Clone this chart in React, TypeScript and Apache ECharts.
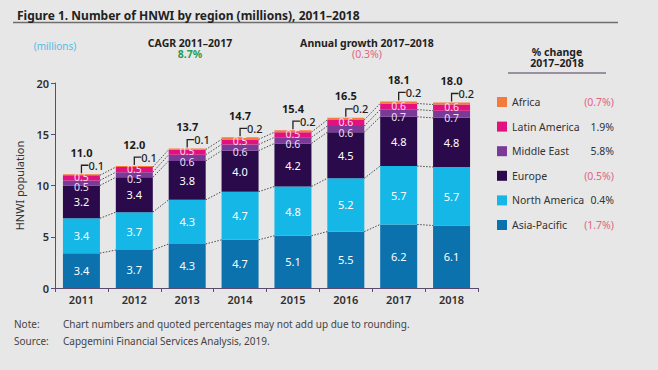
import React, { useEffect, useRef } from "react";
import * as echarts from "echarts";

const years = ["2011", "2012", "2013", "2014", "2015", "2016", "2017", "2018"];
const asiaPacific = [3.4, 3.7, 4.3, 4.7, 5.1, 5.5, 6.2, 6.1];
const northAmerica = [3.4, 3.7, 4.3, 4.7, 4.8, 5.2, 5.7, 5.7];
const europe = [3.2, 3.4, 3.8, 4.0, 4.2, 4.5, 4.8, 4.8];
const middleEast = [0.5, 0.5, 0.6, 0.6, 0.6, 0.6, 0.7, 0.7];
const latinAmerica = [0.5, 0.5, 0.5, 0.5, 0.5, 0.6, 0.6, 0.6];
const africa = [0.1, 0.1, 0.1, 0.2, 0.2, 0.2, 0.2, 0.2];
const totalLabels = ["11.0", "12.0", "13.7", "14.7", "15.4", "16.5", "18.1", "18.0"];
const regionNames = ["Asia-Pacific", "North America", "Europe", "Middle East", "Latin America", "Africa"];
const regionColors = ["#0b72ae", "#14b7e6", "#2a0a4a", "#7a3b98", "#e1127f", "#f47b3c"];
const labelColors = ["#ffffff", "#ffffff", "#ffffff", "#eadff3", "#ffd8ec", "#ffffff"];
const changes2017to2018 = ["(1.7%)", "0.4%", "(0.5%)", "5.8%", "1.9%", "(0.7%)"];
const yTicks = { min: 0, max: 20, interval: 5 };

const FONT = "'Noto Sans', 'Open Sans', sans-serif";
const BAR_WIDTH = 37;
const labelOffsets = [[0, 0], [0, 0], [0, 0], [0, 4], [0, -1], [0, 0]];

export default function App() {
  const ref = useRef<HTMLDivElement>(null);

  useEffect(() => {
    if (!ref.current) return;
    const chart = echarts.init(ref.current, undefined, { renderer: "svg" });

    const seriesValues = [asiaPacific, northAmerica, europe, middleEast, latinAmerica, africa];
    const cumulative: number[][] = [];
    seriesValues.forEach((vals, k) => {
      cumulative.push(vals.map((v, i) => (k === 0 ? 0 : cumulative[k - 1][i]) + v));
    });
    const totals = cumulative[cumulative.length - 1];

    const barSeries = seriesValues.map((vals, k) => ({
      name: regionNames[k],
      type: "bar",
      stack: "total",
      barWidth: BAR_WIDTH,
      itemStyle: { color: regionColors[k] },
      data: vals,
      z: 2,
      label: {
        show: k < 5,
        position: "inside",
        offset: labelOffsets[k],
        color: labelColors[k],
        fontSize: k < 3 ? 11 : 10.5,
        lineHeight: k < 3 ? 13 : 8,
        fontFamily: FONT,
        formatter: (p: any) => Number(p.value).toFixed(1),
      },
    }));

    const connectorData = years.slice(0, -1).map((_, i) => [i]);
    const connectorSeries = {
      type: "custom",
      name: "connectors",
      data: connectorData,
      z: 5,
      silent: true,
      renderItem: (params: any, api: any) => {
        const i = api.value(0);
        const children: any[] = [];
        for (let k = 0; k < 5; k++) {
          const a = api.coord([i, cumulative[k][i]]);
          const b = api.coord([i + 1, cumulative[k][i + 1]]);
          children.push({
            type: "line",
            shape: { x1: a[0] + BAR_WIDTH / 2, y1: a[1], x2: b[0] - BAR_WIDTH / 2, y2: b[1] },
            style: { stroke: "#4a4a4a", lineWidth: 1, lineDash: [1.5, 1.5] },
          });
        }
        return { type: "group", children };
      },
    };

    const annotationSeries = {
      type: "custom",
      name: "annotations",
      data: years.map((_, i) => [i, totals[i]]),
      z: 6,
      silent: true,
      renderItem: (params: any, api: any) => {
        const i = params.dataIndex;
        const p = api.coord([api.value(0), api.value(1)]);
        const cx = p[0];
        const cy = p[1];
        return {
          type: "group",
          children: [
            {
              type: "polyline",
              shape: { points: [[cx, cy - 1], [cx, cy - 9], [cx + 7, cy - 9]] },
              style: { stroke: "#222222", lineWidth: 1.3, fill: "none" },
            },
            {
              type: "text",
              style: {
                text: africa[i].toFixed(1),
                x: cx + 7,
                y: cy - 9,
                align: "left",
                verticalAlign: "middle",
                fill: "#222222",
                font: `500 11px ${FONT}`,
              },
            },
            {
              type: "text",
              style: {
                text: totalLabels[i],
                x: cx,
                y: cy - 22,
                align: "center",
                verticalAlign: "middle",
                fill: "#1a1a1a",
                font: `bold 11px ${FONT}`,
              },
            },
          ],
        };
      },
    };

    const legendOrder = regionNames.slice().reverse();

    const option: any = {
      animation: false,
      backgroundColor: "#e7e7e8",
      textStyle: { fontFamily: FONT },
      title: {
        text: "Figure 1. Number of HNWI by region (millions), 2011–2018",
        left: 12,
        top: 4,
        textStyle: { fontSize: 12, fontWeight: "bold", color: "#222222", fontFamily: FONT },
      },
      grid: { left: 55, right: 180, top: 83, bottom: 82 },
      xAxis: {
        type: "category",
        data: years,
        axisLine: { lineStyle: { color: "#5c4b6e", width: 1 } },
        axisTick: { show: true, length: 4, lineStyle: { color: "#5c4b6e" } },
        axisLabel: { color: "#2e2e2e", fontSize: 11, fontWeight: 600, margin: 6, fontFamily: FONT },
      },
      yAxis: {
        type: "value",
        min: yTicks.min,
        max: yTicks.max,
        interval: yTicks.interval,
        name: "HNWI population",
        nameLocation: "middle",
        nameGap: 30,
        nameTextStyle: { color: "#333333", fontSize: 11, fontFamily: FONT },
        axisLine: { show: true, lineStyle: { color: "#5c4b6e", width: 1 } },
        axisTick: { show: true, length: 4, lineStyle: { color: "#5c4b6e" } },
        splitLine: { show: false },
        axisLabel: { color: "#2e2e2e", fontSize: 11, fontWeight: 600, margin: 6, fontFamily: FONT },
      },
      legend: {
        orient: "vertical",
        left: 497,
        top: 95,
        itemWidth: 10,
        itemHeight: 10,
        itemGap: 10.6,
        padding: 0,
        icon: "rect",
        selectedMode: false,
        data: legendOrder,
        formatter: (name: string) => {
          const idx = regionNames.indexOf(name);
          const ch = changes2017to2018[idx];
          const neg = ch.startsWith("(");
          return `{n|${name}}{${neg ? "neg" : "pos"}|${ch}}`;
        },
        textStyle: {
          fontFamily: FONT,
          fontSize: 10.5,
          color: "#333333",
          lineHeight: 14,
          rich: {
            n: { width: 72, fontSize: 10.5, color: "#333333", fontFamily: FONT, lineHeight: 14 },
            pos: { width: 30, align: "right", fontSize: 10.5, color: "#333333", fontFamily: FONT, lineHeight: 14 },
            neg: { width: 30, align: "right", fontSize: 10.5, color: "#e0667f", fontFamily: FONT, lineHeight: 14 },
          },
        },
      },
      graphic: [
        { type: "line", shape: { x1: 13, y1: 22.5, x2: 618, y2: 22.5 }, style: { stroke: "#6e6e6e", lineWidth: 1.5 } },
        { type: "text", style: { text: "(millions)", x: 55, y: 46, align: "center", verticalAlign: "middle", fill: "#52bce6", font: `10px ${FONT}` } },
        { type: "text", style: { text: "CAGR 2011–2017", x: 190, y: 43, align: "center", verticalAlign: "middle", fill: "#222222", font: `bold 10.5px ${FONT}` } },
        { type: "text", style: { text: "8.7%", x: 190, y: 54, align: "center", verticalAlign: "middle", fill: "#1f9e57", font: `bold 10.5px ${FONT}` } },
        { type: "text", style: { text: "Annual growth 2017–2018", x: 367, y: 43, align: "center", verticalAlign: "middle", fill: "#222222", font: `bold 10.5px ${FONT}` } },
        { type: "text", style: { text: "(0.3%)", x: 367, y: 54, align: "center", verticalAlign: "middle", fill: "#e0667f", font: `10.5px ${FONT}` } },
        { type: "text", style: { text: "% change", x: 557, y: 52, align: "center", verticalAlign: "middle", fill: "#222222", font: `bold 10.5px ${FONT}` } },
        { type: "text", style: { text: "2017–2018", x: 557, y: 63, align: "center", verticalAlign: "middle", fill: "#222222", font: `bold 10.5px ${FONT}` } },
        { type: "line", shape: { x1: 508, y1: 73, x2: 606, y2: 73 }, style: { stroke: "#4b3a5e", lineWidth: 1 } },
        { type: "text", style: { text: "Note:", x: 14, y: 324, align: "left", verticalAlign: "middle", fill: "#444444", font: `10px ${FONT}` } },
        { type: "text", style: { text: "Chart numbers and quoted percentages may not add up due to rounding.", x: 63, y: 324, align: "left", verticalAlign: "middle", fill: "#444444", font: `10px ${FONT}` } },
        { type: "text", style: { text: "Source:", x: 14, y: 341, align: "left", verticalAlign: "middle", fill: "#444444", font: `10px ${FONT}` } },
        { type: "text", style: { text: "Capgemini Financial Services Analysis, 2019.", x: 63, y: 341, align: "left", verticalAlign: "middle", fill: "#444444", font: `10px ${FONT}` } },
      ],
      series: [...barSeries, connectorSeries, annotationSeries],
    };

    chart.setOption(option);
    return () => chart.dispose();
  }, []);

  return <div ref={ref} style={{ position: "fixed", left: 0, top: 0, width: 658, height: 370 }} />;
}
